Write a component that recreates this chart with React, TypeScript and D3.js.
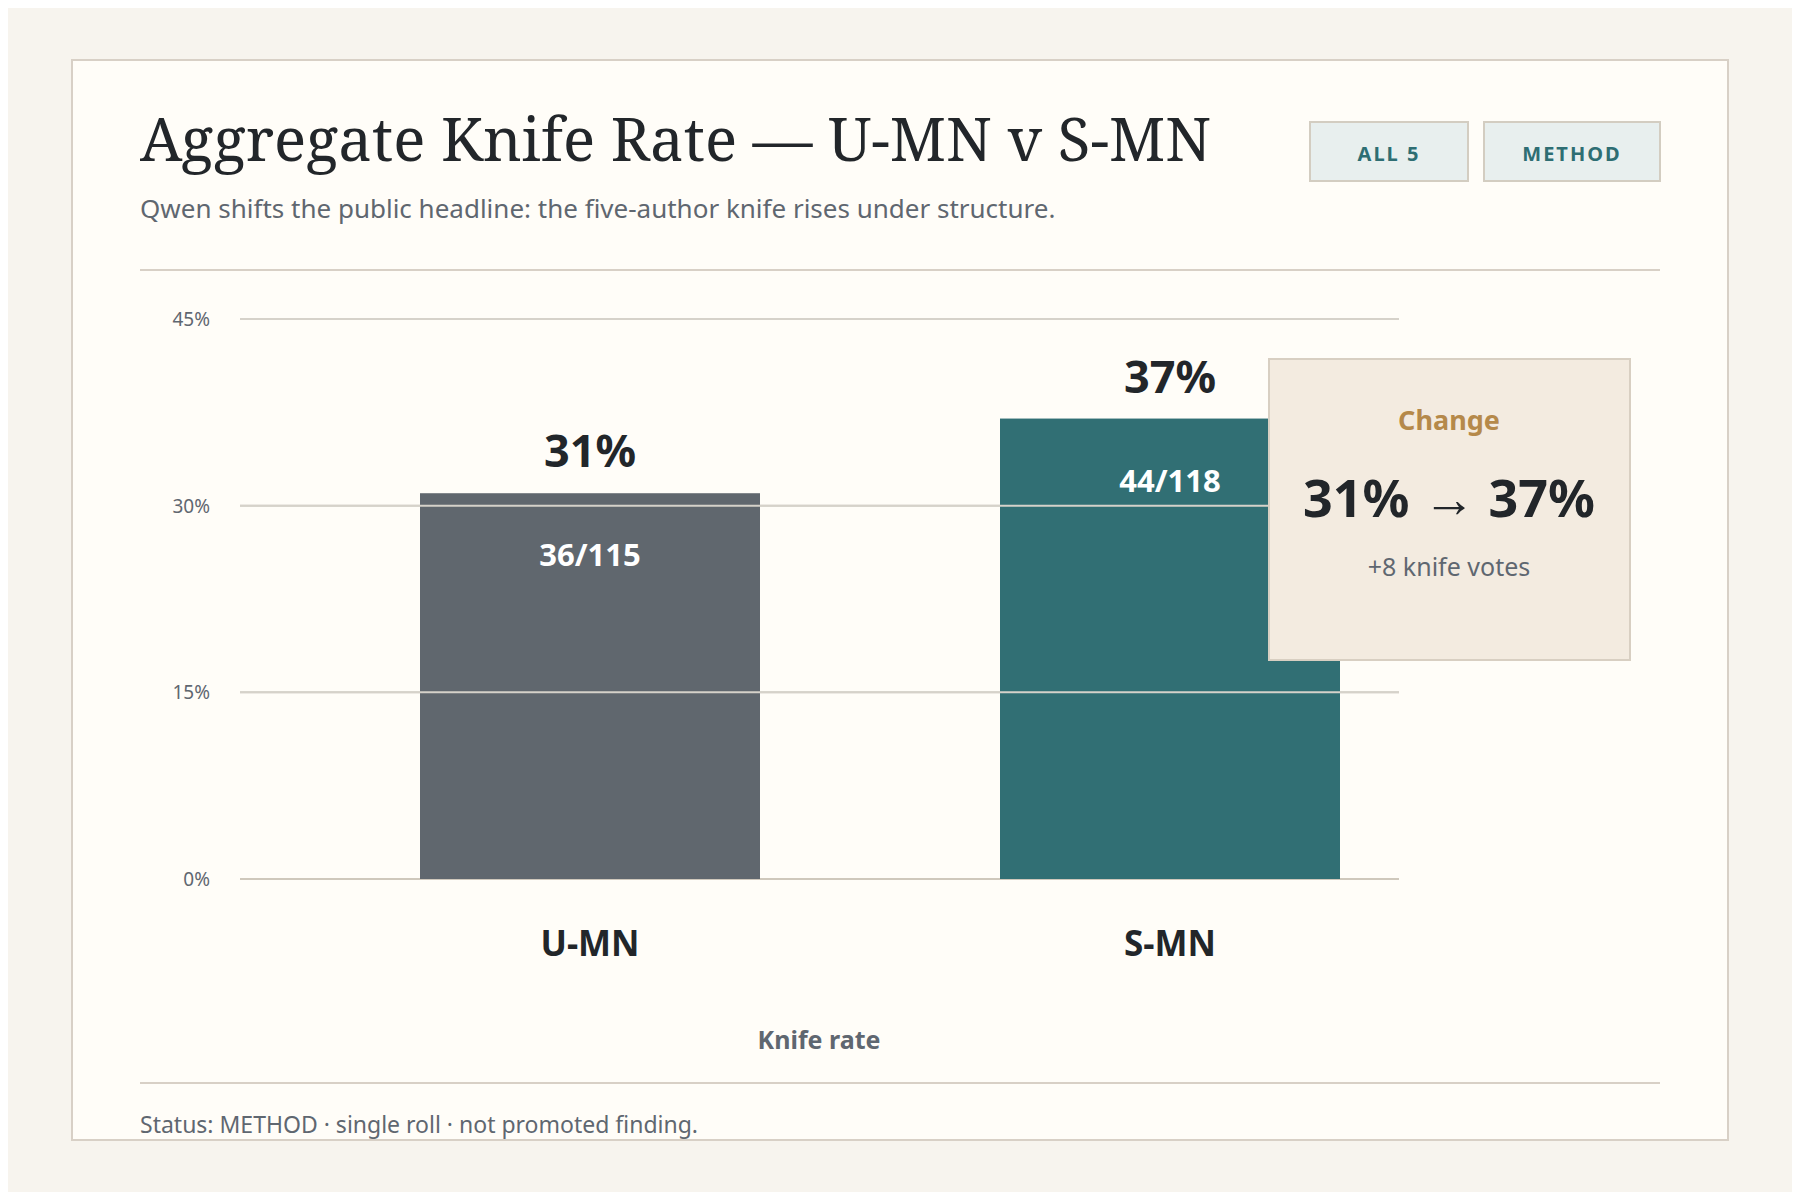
import * as d3 from 'd3';

const categories = ['U-MN', 'S-MN'];
const rates = [31, 37];
const counts = ['36/115', '44/118'];
const barColors = ['#60676e', '#316f74'];
const yTicks = [0, 15, 30, 45];

const SANS = '"Noto Sans", "Open Sans", sans-serif';
const SERIF = '"Noto Serif", "DejaVu Serif", serif';

export default function App() {
  const W = 1800;
  const H = 1200;
  const y = d3.scaleLinear().domain([0, 45]).range([879, 319]);
  const x = d3.scalePoint<string>().domain(categories).range([590, 1170]);
  const bw = 340;

  return (
    <svg width={W} height={H} style={{ display: 'block', margin: -8 }}>
      <rect width={W} height={H} fill="#f7f4ee" />
      <rect x={72} y={60} width={1656} height={1080} fill="#fffdf8" stroke="#d8d0c6" strokeWidth={2} />
      <text x={140} y={161} fontFamily={SERIF} fontSize={60} fill="#22262a">
        Aggregate Knife Rate — U-MN v S-MN
      </text>
      <text x={140} y={218} fontFamily={SANS} fontSize={26} fill="#5f6770">
        Qwen shifts the public headline: the five-author knife rises under structure.
      </text>
      {[
        { label: 'ALL 5', x0: 1310, x1: 1468 },
        { label: 'METHOD', x0: 1484, x1: 1660 },
      ].map((b) => (
        <g key={b.label}>
          <rect x={b.x0} y={122} width={b.x1 - b.x0} height={59} fill="#e8efee" stroke="#d3cdc1" strokeWidth={2} />
          <text x={(b.x0 + b.x1) / 2} y={161} textAnchor="middle" fontFamily={SANS} fontSize={20}
            fontWeight={700} letterSpacing={2} fill="#2e6e73">{b.label}</text>
        </g>
      ))}
      <line x1={140} x2={1660} y1={270} y2={270} stroke="#d8d0c6" strokeWidth={2} />

      {yTicks.map((t) => (
        <g key={t}>
          <line x1={240} x2={1399} y1={y(t)} y2={y(t)} stroke={t === 0 ? '#cfc8bc' : '#d6d2ca'} strokeWidth={2} />
          <text x={210} y={y(t) + 7} textAnchor="end" fontFamily={SANS} fontSize={19} fill="#5f6770">{t}%</text>
        </g>
      ))}

      {categories.map((c, i) => {
        const cx = x(c)!;
        const top = y(rates[i]);
        return (
          <g key={c}>
            <rect x={cx - bw / 2} y={top} width={bw} height={y(0) - top} fill={barColors[i]} />
            <text x={cx} y={top - 26} textAnchor="middle" fontFamily={SANS} fontSize={45} fontWeight={700} fill="#22262a">{rates[i]}%</text>
            <text x={cx} y={top + 73} textAnchor="middle" fontFamily={SANS} fontSize={31} fontWeight={700} fill="#ffffff">{counts[i]}</text>
            <text x={cx} y={956} textAnchor="middle" fontFamily={SANS} fontSize={35} fontWeight={700} fill="#22262a">{c}</text>
          </g>
        );
      })}
      {/* gridline over bar 30% appears drawn on top */}
      <line x1={240} x2={1399} y1={y(30)} y2={y(30)} stroke="#d6d2ca" strokeWidth={2} />
      <line x1={240} x2={1399} y1={y(15)} y2={y(15)} stroke="#d6d2ca" strokeWidth={2} />

      <rect x={1269} y={359} width={361} height={301} fill="#f3ebe0" stroke="#d8cfc2" strokeWidth={2} />
      <text x={1449} y={430} textAnchor="middle" fontFamily={SANS} fontSize={27} fontWeight={700} fill="#b5894a">Change</text>
      <text x={1449} y={517} textAnchor="middle" fontFamily={SANS} fontSize={52} fontWeight={700} fill="#22262a">
        {rates[0]}% → {rates[1]}%
      </text>
      <text x={1449} y={576} textAnchor="middle" fontFamily={SANS} fontSize={25} fill="#5f6770">+8 knife votes</text>

      <text x={819} y={1049} textAnchor="middle" fontFamily={SANS} fontSize={25} fontWeight={700} fill="#5f6770">Knife rate</text>
      <line x1={140} x2={1660} y1={1083} y2={1083} stroke="#d8d0c6" strokeWidth={2} />
      <text x={140} y={1133} fontFamily={SANS} fontSize={23} fill="#5f6770">
        Status: METHOD · single roll · not promoted finding.
      </text>
    </svg>
  );
}
